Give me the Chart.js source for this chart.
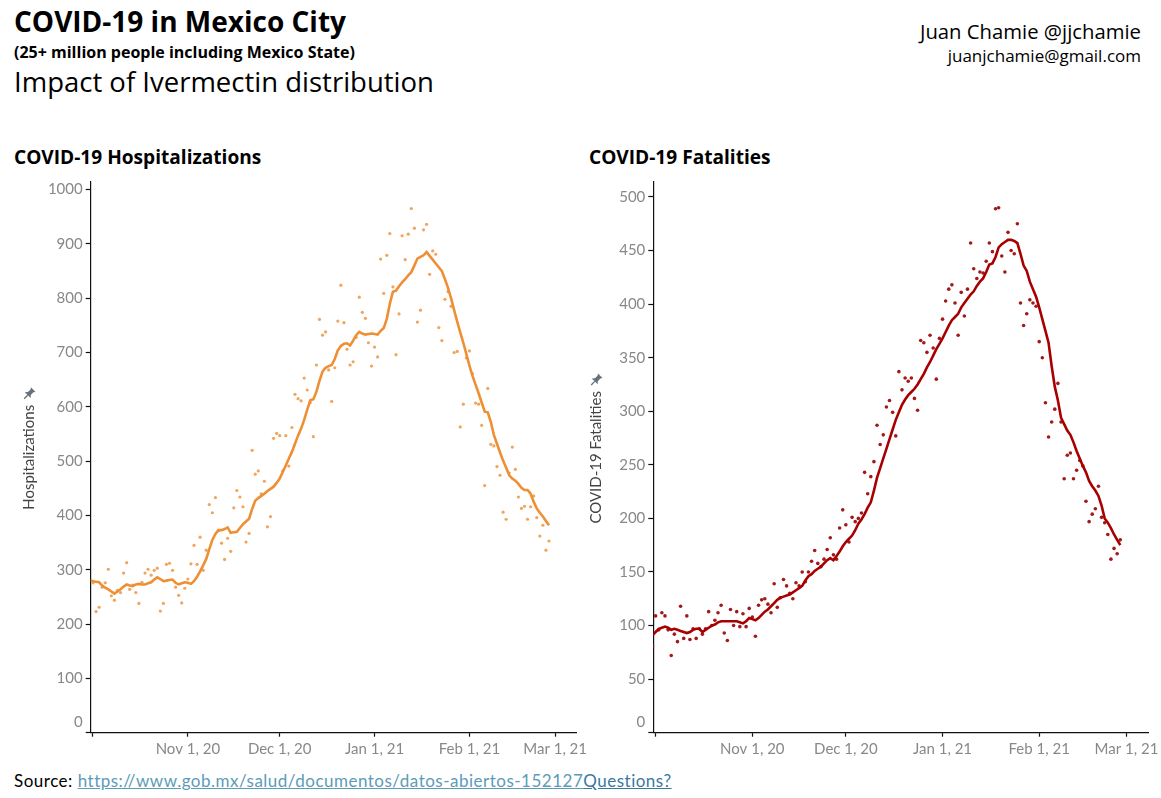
<!DOCTYPE html>
<html>
<head>
<meta charset="utf-8">
<script src="https://cdn.jsdelivr.net/npm/chart.js@4.4.0/dist/chart.umd.min.js"></script>
<style>
  html, body { margin: 0; padding: 0; background: #fff; }
  body { width: 1161px; height: 798px; position: relative; overflow: hidden; font-family: "Open Sans", Lato, sans-serif; }
  .t { position: absolute; white-space: nowrap; color: #000; line-height: 1; }
  canvas { position: absolute; }
  a { text-decoration: underline; }
</style>
</head>
<body>
<div class="t" style="left:14px;top:7px;font-size:28px;font-weight:700;">COVID-19 in Mexico City</div>
<div class="t" style="left:14px;top:44px;font-size:16px;font-weight:700;">(25+ million people including Mexico State)</div>
<div class="t" style="left:14px;top:67.5px;font-size:27.5px;font-weight:400;">Impact of Ivermectin distribution</div>
<div class="t" style="right:20px;top:20.5px;font-size:20.3px;font-weight:400;">Juan Chamie @jjchamie</div>
<div class="t" style="right:20px;top:46.5px;font-size:17px;font-weight:400;">juanjchamie@gmail.com</div>
<div class="t" style="left:14px;top:148px;font-size:19.1px;font-weight:700;">COVID-19 Hospitalizations</div>
<div class="t" style="left:589px;top:148px;font-size:19.1px;font-weight:700;">COVID-19 Fatalities</div>
<div class="t" style="left:14px;top:772px;font-size:17px;font-family:Lato,sans-serif;letter-spacing:0.5px;">Source: <a style="color:#5d9bb8;">https://www.gob.mx/salud/documentos/datos-abiertos-152127</a><a style="color:#3a78a0;">Questions?</a></div>

<canvas id="c1" width="600" height="593" style="left:0px;top:170px;"></canvas>
<canvas id="c2" width="600" height="593" style="left:572px;top:170px;"></canvas>

<script>
// ---- x axis: days since Oct 1, 2020 (first entry = Sep 30, last = Feb 27, 2021) ----
const startDay = -1;
const dayCount = 151;
const tickDays = [0, 31, 61, 92, 123, 151];
const tickLabels = ['', 'Nov 1, 20', 'Dec 1, 20', 'Jan 1, 21', 'Feb 1, 21', 'Mar 1, 21'];

// ---- COVID-19 Hospitalizations (daily values and smoothed line) ----
const hospDaily = [
  null,
  276,223,231,268,276,301,252,244,262,258,
  294,313,264,272,258,238,277,294,301,290,
  299,303,224,238,310,312,299,268,253,239,
  266,283,311,345,310,360,299,336,420,405,
  433,372,349,319,358,334,414,446,434,416,
  351,367,520,476,482,440,463,379,398,542,
  551,547,482,547,491,562,623,615,611,653,
  631,608,545,677,761,732,738,668,610,672,
  758,824,755,706,677,683,728,802,774,763,
  718,675,710,692,872,809,879,919,821,696,
  771,915,871,918,965,929,756,778,926,936,
  844,887,881,746,722,798,812,785,700,702,
  563,605,690,703,661,607,605,566,455,634,
  531,528,490,474,406,393,478,526,485,434,
  413,417,393,416,436,396,362,382,336,353
];
const hospAvg = [
  281,
  279,278,277,271,267,264,260,256,260,264,
  269,273,271,270,273,274,273,273,275,277,
  282,286,283,279,280,281,282,276,273,275,
  277,276,274,279,287,297,308,320,338,355,
  366,373,373,375,378,368,369,370,377,384,
  389,394,412,427,432,436,440,445,449,453,
  460,468,480,492,505,517,532,547,560,576,
  595,612,614,628,648,665,672,675,677,688,
  704,712,716,717,713,722,732,738,735,733,
  734,735,734,733,740,745,762,790,812,814,
  822,829,835,842,848,860,873,876,879,885,
  878,871,864,857,850,835,819,800,778,757,
  737,718,697,676,657,641,625,608,591,590,
  572,548,532,516,501,488,474,468,464,458,
  451,447,447,440,425,413,405,398,390,382
];

// ---- COVID-19 Fatalities (daily values and smoothed line) ----
const fatalDaily = [
  81,
  109,96,112,109,96,72,92,85,118,88,
  109,87,97,88,97,92,97,113,100,105,
  112,119,93,86,115,100,113,99,111,99,
  116,108,90,119,124,125,120,112,139,117,
  126,143,137,130,125,140,137,150,141,150,
  160,170,158,155,162,171,182,166,162,191,
  208,194,178,201,197,200,205,243,223,239,
  253,287,269,278,304,310,299,277,337,320,
  331,328,331,312,301,366,364,355,371,359,
  330,368,386,403,414,418,401,371,411,389,
  414,457,433,424,430,429,440,457,449,489,
  490,445,430,467,450,447,475,401,380,391,
  404,401,398,365,350,308,276,290,302,326,
  290,237,259,261,237,245,254,249,216,197,
  204,209,230,201,196,185,162,172,167,180
];
const fatalAvg = [
  91,
  94,97,98,99,98,96,97,96,95,94,
  93,94,96,97,97,94,96,98,100,101,
  103,104,104,104,104,104,104,103,102,104,
  107,106,105,107,110,113,115,118,121,124,
  126,127,128,129,131,133,135,137,142,146,
  148,151,153,155,158,161,163,161,165,169,
  174,178,181,184,189,195,199,204,210,215,
  226,238,247,256,265,274,283,292,299,306,
  311,315,318,321,325,330,335,341,346,352,
  358,363,368,374,380,385,388,391,397,401,
  405,409,412,417,421,424,430,437,438,444,
  453,456,458,460,460,459,457,447,436,431,
  421,414,407,397,386,375,364,342,323,310,
  294,288,282,278,271,263,256,249,243,235,
  230,226,221,212,200,196,191,185,180,175
];

const hospTicks = [0,100,200,300,400,500,600,700,800,900,1000];
const fatalTicks = [0,50,100,150,200,250,300,350,400,450,500];

const days = [];
for (let i = 0; i < dayCount; i++) days.push(startDay + i);
const toPts = arr => arr.map((v, i) => ({ x: days[i], y: v }));

const decor = {
  id: 'decor',
  afterDraw(chart, args, o) {
    const { ctx, chartArea } = chart;
    const y = chart.scales.y;
    ctx.save();
    ctx.font = '15px Lato';
    ctx.fillStyle = '#888';
    ctx.textAlign = 'right';
    ctx.textBaseline = 'middle';
    ctx.fillText('0', y.right - 8, y.getPixelForValue(0) - 11);
    ctx.font = '15px Lato';
    const w = ctx.measureText(o.title).width;
    const cy = (chartArea.top + chartArea.bottom) / 2 - w / 2 - 11;
    ctx.translate(o.titleX, cy);
    ctx.rotate(Math.PI / 4);
    ctx.fillStyle = '#67717c';
    ctx.beginPath();
    ctx.moveTo(-3.2, -6); ctx.lineTo(3.2, -6); ctx.lineTo(2, -4.2); ctx.lineTo(2, -0.5);
    ctx.lineTo(4.2, 1.8); ctx.lineTo(-4.2, 1.8); ctx.lineTo(-2, -0.5); ctx.lineTo(-2, -4.2);
    ctx.closePath(); ctx.fill();
    ctx.fillRect(-0.7, 1.8, 1.4, 5);
    ctx.restore();
  }
};

function makeChart(id, cfg) {
  return new Chart(document.getElementById(id), {
    type: 'line',
    data: {
      datasets: [
        { data: toPts(cfg.avg), borderColor: cfg.lineColor, borderWidth: 2.6, pointRadius: 0,
          tension: 0, fill: false, order: 1 },
        { data: toPts(cfg.daily), showLine: false, pointRadius: cfg.dotR, pointBorderWidth: 0,
          pointBackgroundColor: cfg.dotColor, backgroundColor: cfg.dotColor, borderColor: cfg.dotColor, order: 2 }
      ]
    },
    options: {
      responsive: false,
      animation: false,
      events: [],
      layout: { padding: { left: 0, top: 12, right: cfg.padRight, bottom: 0 } },
      plugins: { legend: { display: false }, tooltip: { enabled: false },
        decor: { title: cfg.title, titleX: cfg.titleX } },
      scales: {
        x: {
          type: 'linear', min: -0.75, max: 158.05,
          afterBuildTicks: s => { s.ticks = tickDays.map(v => ({ value: v })); },
          afterFit: s => { s.height = 30.3; },
          border: { display: true, color: '#111', width: 1.2 },
          grid: { drawOnChartArea: false, drawTicks: true, tickLength: 4, tickColor: '#111', tickWidth: 1.2 },
          ticks: { autoSkip: false, maxRotation: 0, padding: 3, color: '#888',
            font: { family: 'Lato', size: 15 },
            callback: v => tickLabels[tickDays.indexOf(v)] ?? '' }
        },
        y: {
          min: 0, max: cfg.yMax,
          afterBuildTicks: s => { s.ticks = cfg.yTicks.map(v => ({ value: v })); },
          afterFit: s => { s.width = cfg.yWidth; },
          border: { display: true, color: '#111', width: 1.2 },
          grid: { drawOnChartArea: false, drawTicks: true, tickLength: 5, tickColor: '#111', tickWidth: 1.2 },
          ticks: { padding: 3, color: '#888', font: { family: 'Lato', size: 15 },
            callback: v => v === 0 ? '' : String(v) },
          title: { display: true, text: cfg.title, color: '#444',
            font: { family: 'Lato', size: 15 }, padding: { top: cfg.titlePad, bottom: 0 } }
        }
      }
    },
    plugins: [decor]
  });
}

makeChart('c1', {
  daily: hospDaily, avg: hospAvg, lineColor: '#ef8f34', dotColor: '#f2a35c', dotR: 1.6,
  yMax: 1014, yTicks: hospTicks, yWidth: 90.7, padRight: 23.3,
  title: 'Hospitalizations', titleX: 29, titlePad: 20
});
makeChart('c2', {
  daily: fatalDaily, avg: fatalAvg, lineColor: '#a80000', dotColor: '#a31818', dotR: 1.8,
  yMax: 514, yTicks: fatalTicks, yWidth: 81.3, padRight: 23.5,
  title: 'COVID-19 Fatalities', titleX: 24, titlePad: 15
});
</script>
</body>
</html>
